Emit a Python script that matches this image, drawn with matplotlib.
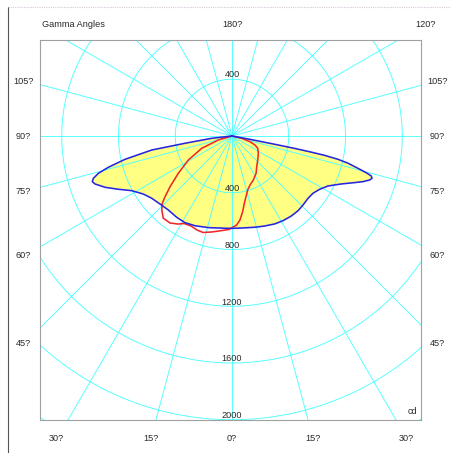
import numpy as np
import matplotlib
matplotlib.use('Agg')
import matplotlib.pyplot as plt
from matplotlib.lines import Line2D

# ---------------- data ----------------
# gamma angle (deg, measured from nadir; negative = left half-plane) and intensity (cd)
blue_gamma = [-84.5, -83.5, -81.2, -80.1, -77.7, -75.8, -74.4, -73.0, -71.9, -70.7,
              -68.0, -64.9, -61.4, -56.8, -52.2, -46.6, -40.7, -34.2, -28.5, -22.4,
              -14.5, -4.3, 0.0, 5.8, 14.0, 20.0, 25.9, 31.1, 36.6, 41.5, 45.8, 50.7,
              54.7, 58.7, 62.5, 66.3, 69.2, 70.8, 72.3, 73.2, 74.0, 74.7, 75.6, 76.8,
              77.6, 78.2, 78.5, 78.8, 79.0, 79.2, 79.5, 80.5]
blue_cd = [0, 145, 335, 574, 772, 899, 978, 1022, 1036, 1023,
           965, 885, 805, 747, 716, 698, 688, 693, 695, 684,
           667, 652, 651, 652, 663, 675, 689, 697, 702, 703, 698, 693,
           699, 723, 763, 841, 925, 978, 1019, 1031, 1021, 981, 917, 840,
           765, 667, 570, 450, 330, 211, 115, 0]

red_gamma = [-77.0, -73.7, -67.9, -61.2, -55.2, -50.7, -47.8, -46.0, -43.5, -39.9,
             -35.5, -31.5, -28.7, -24.5, -20.4, -16.7, -11.8, -6.0, -1.8, 3.0,
             5.4, 8.0, 10.4, 13.0, 16.2, 20.2, 25.8, 32.8, 38.8, 47.0, 56.7, 64.4,
             68.6, 72.4, 76.7, 80.0]
red_cd = [0, 100, 230, 351, 461, 564, 637, 683, 719, 755,
          753, 728, 703, 697, 707, 710, 691, 670, 659, 628,
          595, 539, 482, 439, 396, 368, 345, 313, 278, 248, 222, 201,
          174, 133, 70, 0]

circle_values = [400, 800, 1200, 1600, 2000, 2400]
circle_labels = ['400', '800', '1200', '1600', '2000']
upper_label = '400'
radial_angles = list(range(0, 360, 15))

side_labels = ['105?', '90?', '75?', '60?', '45?']
bottom_labels = ['30?', '15?', '0?', '15?', '30?']
top_labels = ['Gamma Angles', '180?', '120?']
unit_label = 'cd'

# ---------------- layout ----------------
W, H = 452, 453
cx, cy = 232.0, 136.0          # pole position (px)
s = 56.75 / 400.0              # px per cd
FONT = 'Liberation Sans'
FS = 6.6
TC = '#2a2a2a'

fig = plt.figure(figsize=(W / 100, H / 100), dpi=100)
ax = fig.add_axes([40 / W, 1 - 420 / H, 381 / W, 380 / H])
ax.set_xlim((40 - cx) / s, (421 - cx) / s)
ax.set_ylim(-(420 - cy) / s, (cy - 40) / s)
ax.set_xticks([])
ax.set_yticks([])
for sp in ax.spines.values():
    sp.set_color('#a0a0a0')
    sp.set_linewidth(0.8)


def to_xy(gamma, cd):
    g = np.radians(np.asarray(gamma, dtype=float))
    c = np.asarray(cd, dtype=float)
    return c * np.sin(g), -c * np.cos(g)


# fill under blue curve
bx, by = to_xy(blue_gamma, blue_cd)
ax.fill(bx, by, color='#ffff84', lw=0, zorder=1)

# grid circles
t = np.linspace(0, 2 * np.pi, 721)
for r in circle_values:
    ax.plot(r * np.cos(t), r * np.sin(t), color='#4dffff', lw=0.65, zorder=2)
# radial lines
for a in radial_angles:
    lx, ly = to_xy([a, a], [0, 3000])
    ax.plot(lx, ly, color='#4dffff', lw=0.65, zorder=2)

# curves
rx, ry = to_xy(red_gamma, red_cd)
ax.plot(rx, ry, color='#f02828', lw=1.15, zorder=3, solid_joinstyle='round')
ax.plot(bx, by, color='#2626e0', lw=1.15, zorder=4, solid_joinstyle='round')

# circle labels (baseline just above each circle)
off = 11
for v, lab in zip(circle_values, circle_labels):
    ax.text(0, -v + off, lab, ha='center', va='baseline', fontsize=FS,
            family=FONT, color=TC, zorder=5)
ax.text(0, circle_values[0] + 19, upper_label, ha='center', va='baseline',
        fontsize=FS, family=FONT, color=TC, zorder=5)


def ftext(x, y, txt, ha='center'):
    fig.text(x / W, 1 - (y + 3.3) / H, txt, ha=ha, va='baseline',
             fontsize=FS, family=FONT, color=TC)


# top labels
ftext(42, 24, top_labels[0], ha='left')
ftext(232, 24, top_labels[1])
ftext(425.5, 24, top_labels[2])
# side labels
side_y = [81, 136, 190.7, 255, 342.7]
for lab, yy in zip(side_labels, side_y):
    ftext(23.5, yy, lab)
    ftext(437.5, yy, lab)
# bottom labels
bottom_x = [56.7, 150.8, 231.7, 312.5, 406.3]
for lab, xx in zip(bottom_labels, bottom_x):
    ftext(xx, 437.3, lab)
# unit
ftext(412, 410.5, unit_label)

# outer frame
fig.add_artist(Line2D([7.5 / W, 7.5 / W], [0, 1 - 6.5 / H], transform=fig.transFigure,
                      color='#555555', lw=0.8))
fig.add_artist(Line2D([7.5 / W, 1.0], [1 - 6.5 / H, 1 - 6.5 / H], transform=fig.transFigure,
                      color='#d8c8d8', lw=0.8, ls=(0, (1, 1))))

fig.savefig('out.png', dpi=100)
